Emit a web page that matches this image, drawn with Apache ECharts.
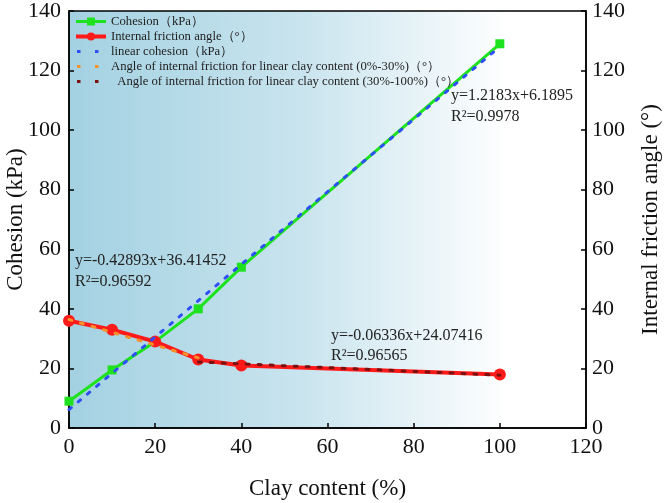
<!DOCTYPE html>
<html>
<head>
<meta charset="utf-8">
<script src="https://cdn.jsdelivr.net/npm/echarts@6/dist/echarts.min.js"></script>
<style>html,body{margin:0;padding:0;background:#fff}#c{width:666px;height:503px}</style>
</head>
<body>
<div id="c"></div>
<script>
var clay = [0, 10, 20, 30, 40, 100];
var cohesion = [9, 19.5, 29, 40, 54, 129];
var friction = [36, 33, 29, 23, 21, 18];
var fitCohesion = [[0, 6.19], [100, 128.02]];
var fitFriction1 = [[0, 36.41], [30, 23.55]];
var fitFriction2 = [[30, 22.17], [100, 17.74]];
var xTicks = [0, 120, 20];
var yTicks = [0, 140, 20];

var font = 'Liberation Serif';
var chart = echarts.init(document.getElementById('c'));
function pairs(xs, ys) { return xs.map(function (x, i) { return [x, ys[i]]; }); }
var axisCommon = {
  axisLine: { show: true, lineStyle: { color: '#000', width: 1.5 } },
  axisTick: { show: true, inside: true, length: 5, lineStyle: { color: '#000', width: 1.5 } },
  splitLine: { show: false },
  nameMoveOverlap: false,
  axisLabel: { color: '#111', fontFamily: font, fontSize: 22 },
  nameTextStyle: { color: '#111', fontFamily: font, fontSize: 23 }
};
var names = ['Cohesion（kPa）', 'Internal friction angle（°）', 'linear cohesion（kPa）',
  'Angle of internal friction for linear clay content (0%-30%)（°）',
  '  Angle of internal friction for linear clay content (30%-100%)（°）'];
var dotIcon = 'path://M0,0h0.01v0.01h-0.01z M30,10h0.01v0.01h-0.01z M1,3.5h3.5v3h-3.5z M19,3.5h3.5v3h-3.5z';
chart.setOption({
  animation: false,
  grid: {
    left: 69, right: 80, top: 11, bottom: 75, show: true, outerBoundsMode: 'none', containLabel: false,
    borderColor: '#000', borderWidth: 1.5,
    backgroundColor: new echarts.graphic.LinearGradient(0, 0, 1, 0, [
      { offset: 0, color: '#a3d1e2' },
      { offset: 0.45, color: '#c9e4ee' },
      { offset: 0.85, color: '#ffffff' },
      { offset: 1, color: '#ffffff' }
    ])
  },
  legend: {
    orient: 'vertical', left: 74, top: 15, padding: 0, itemWidth: 30, itemHeight: 10, itemGap: 2,
    textStyle: { fontFamily: font, fontSize: 12.7, color: '#222' },
    data: [
      { name: names[0], lineStyle: { width: 3 } }, { name: names[1], lineStyle: { width: 4 } },
      { name: names[2], icon: dotIcon }, { name: names[3], icon: dotIcon }, { name: names[4], icon: dotIcon }
    ]
  },
  xAxis: Object.assign({}, axisCommon, {
    type: 'value', min: xTicks[0], max: xTicks[1], interval: xTicks[2],
    name: 'Clay content (%)', nameLocation: 'middle', nameGap: 49,
    axisLabel: Object.assign({}, axisCommon.axisLabel, { margin: 8 })
  }),
  yAxis: [
    Object.assign({}, axisCommon, {
      type: 'value', min: yTicks[0], max: yTicks[1], interval: yTicks[2],
      name: 'Cohesion (kPa)', nameLocation: 'middle', nameGap: 42,
      axisLabel: Object.assign({}, axisCommon.axisLabel, { margin: 8 })
    }),
    Object.assign({}, axisCommon, {
      type: 'value', min: yTicks[0], max: yTicks[1], interval: yTicks[2], position: 'right',
      name: 'Internal friction angle (°)', nameLocation: 'middle', nameGap: 53,
      axisLabel: Object.assign({}, axisCommon.axisLabel, { margin: 6 })
    })
  ],
  series: [
    { name: names[0], type: 'line', data: pairs(clay, cohesion), symbol: 'rect', symbolSize: 9,
      itemStyle: { color: '#1ee21e' }, lineStyle: { color: '#1ee21e', width: 3 }, z: 2 },
    { name: names[1], type: 'line', yAxisIndex: 1, data: pairs(clay, friction), symbol: 'circle', symbolSize: 12,
      itemStyle: { color: '#ff1a1a' }, lineStyle: { color: '#ff1a1a', width: 4 }, z: 3 },
    { name: names[2], type: 'line', data: fitCohesion, symbol: 'none',
      itemStyle: { color: '#2d4ff5' }, lineStyle: { color: '#2d4ff5', width: 3, type: [3, 9], cap: 'round' }, z: 4 },
    { name: names[3], type: 'line', yAxisIndex: 1, data: fitFriction1, symbol: 'none',
      itemStyle: { color: '#f5912a' }, lineStyle: { color: '#f5912a', width: 3, type: [3, 9], cap: 'round' }, z: 4 },
    { name: names[4], type: 'line', yAxisIndex: 1, data: fitFriction2, symbol: 'none',
      itemStyle: { color: '#7a1010' }, lineStyle: { color: '#7a1010', width: 3, type: [3, 9], cap: 'round' }, z: 4 }
  ],
  graphic: [
    { type: 'text', left: 451, top: 88, style: { text: 'y=1.2183x+6.1895', font: '16px ' + font, fill: '#222' } },
    { type: 'text', left: 451, top: 109, style: { text: 'R²=0.9978', font: '16px ' + font, fill: '#222' } },
    { type: 'text', left: 75, top: 253, style: { text: 'y=-0.42893x+36.41452', font: '16px ' + font, fill: '#222' } },
    { type: 'text', left: 75, top: 274, style: { text: 'R²=0.96592', font: '16px ' + font, fill: '#222' } },
    { type: 'text', left: 331, top: 328, style: { text: 'y=-0.06336x+24.07416', font: '16px ' + font, fill: '#222' } },
    { type: 'text', left: 331, top: 348, style: { text: 'R²=0.96565', font: '16px ' + font, fill: '#222' } }
  ]
});
</script>
</body>
</html>
